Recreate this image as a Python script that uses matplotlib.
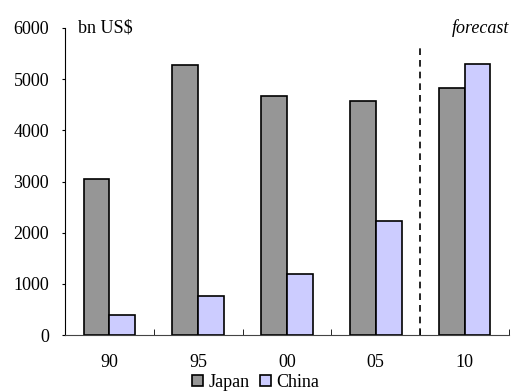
import numpy as np
import matplotlib.pyplot as plt

# data
years = ['90', '95', '00', '05', '10']
japan = [3050, 5270, 4670, 4570, 4830]
china = [400, 770, 1190, 2220, 5300]

plt.rcParams['font.family'] = ['Liberation Serif', 'DejaVu Serif']

fig = plt.figure(figsize=(5.13, 3.92), dpi=100)
ax = fig.add_axes([65/513, 57/392, 444/513, 307/392])

x = np.arange(len(years))
w = 0.29
ax.bar(x - w/2, japan, w, color='#969696', edgecolor='black', linewidth=1.2, label='Japan')
ax.bar(x + w/2, china, w, color='#CCCCFF', edgecolor='black', linewidth=1.2, label='China')

ax.set_xlim(-0.5, len(years) - 0.5)
ax.set_ylim(0, 6000)
ax.set_yticks(range(0, 6001, 1000))
ax.set_xticks(x)
ax.set_xticklabels(years, fontsize=13)
ax.tick_params(axis='x', length=0, pad=14)
ax.set_xticks(np.arange(0.5, len(years)), minor=True)
ax.tick_params(axis='x', which='minor', direction='in', length=4)
ax.tick_params(axis='y', labelsize=13, length=2.5, pad=9)

for s in ['top', 'right']:
    ax.spines[s].set_visible(False)
ax.spines['bottom'].set_color('#444444')

# forecast divider
ax.plot([3.5, 3.5], [0, 5600], color='black', linestyle=(0, (4, 3)), linewidth=1.2)

ax.text(0.03, 1.0, 'bn US$', transform=ax.transAxes, fontsize=13, va='center', ha='left')
ax.text(1.0, 1.0, 'forecast', transform=ax.transAxes, fontsize=13, va='center', ha='right', style='italic')

ax.legend(loc='lower center', bbox_to_anchor=(0.43, -0.212), ncol=2, frameon=False, fontsize=13,
          handlelength=0.6, handleheight=0.6, handletextpad=0.3, columnspacing=0.6, borderpad=0)

fig.savefig('out.png', dpi=100)
